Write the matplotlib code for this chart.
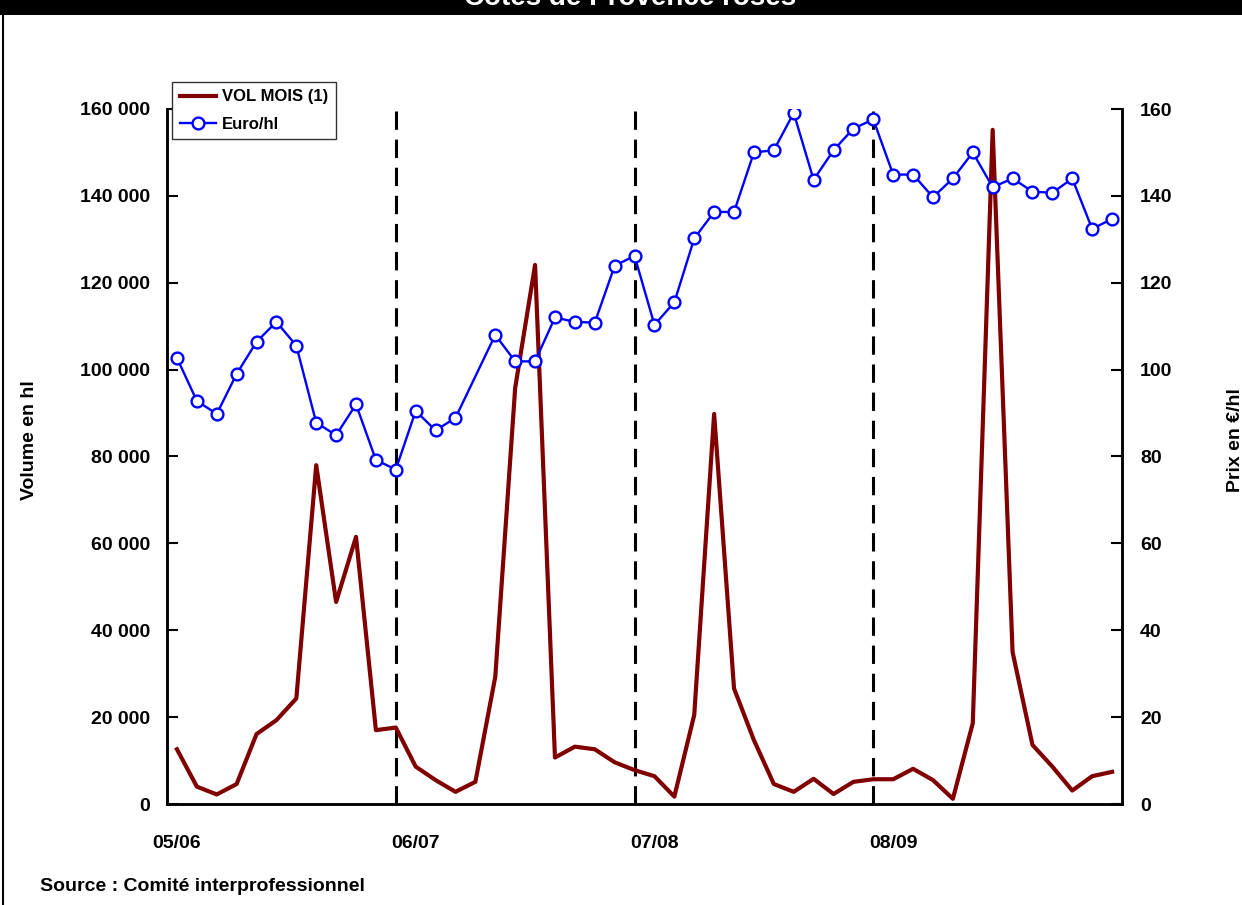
import numpy as np
import matplotlib
matplotlib.use("Agg")
import matplotlib.pyplot as plt
from matplotlib.ticker import FuncFormatter
from matplotlib.patches import Rectangle
from matplotlib.lines import Line2D

plt.rcParams['font.family'] = ['Liberation Sans', 'DejaVu Sans']
plt.rcParams['font.weight'] = 'bold'

# 48 monthly points, campaigns 05/06 .. 08/09
season_labels = ["05/06", "06/07", "07/08", "08/09"]
vol_mois = [12.6, 4.0, 2.2, 4.6, 16.1, 19.3, 24.3, 78.0, 46.5, 61.5, 17.0, 17.6,
            8.6, 5.5, 2.8, 5.1, 29.3, 95.8, 124.1, 10.7, 13.2, 12.6, 9.6, 7.8,
            6.4, 1.7, 20.5, 89.8, 26.6, 14.7, 4.6, 2.8, 5.8, 2.3, 5.1, 5.7,
            5.7, 8.1, 5.5, 1.2, 18.6, 155.2, 35.0, 13.6, 8.6, 3.1, 6.4, 7.4]
vol_mois = [v * 1000 for v in vol_mois]
euro_hl = [102.7, 92.8, 89.8, 99.0, 106.4, 111.0, 105.5, 87.8, 84.9, 92.0, 79.2, 77.0,
           90.5, 86.0, 88.9, np.nan, 108.0, 101.9, 101.9, 112.0, 111.0, 110.8, 123.9, 126.2,
           110.3, 115.5, 130.2, 136.3, 136.3, 150.0, 150.5, 159.1, 143.7, 150.5, 155.5, 157.6,
           144.9, 144.9, 139.7, 144.0, 150.0, 142.0, 144.0, 141.0, 140.7, 144.0, 132.4, 134.7]
season_breaks = [11, 23, 35]

x = np.arange(len(vol_mois))
euro = np.array(euro_hl)
ok = ~np.isnan(euro)

W, H = 1242, 905
fig = plt.figure(figsize=(W / 100, H / 100), dpi=100)

# title bar (cut off at top)
fig.patches.append(Rectangle((0, 1 - 15 / H), 1, 15 / H, transform=fig.transFigure,
                             facecolor='black', edgecolor='none', zorder=0))
fig.text(630 / W, 1 - 5 / H, "Côtes de Provence rosés", color='white', fontsize=20,
         fontweight='bold', ha='center', va='baseline')
fig.lines.append(Line2D([2.5 / W, 2.5 / W], [0, 1 - 15 / H], transform=fig.transFigure,
                        color='black', lw=1.5))

ax1 = fig.add_axes([167 / W, 1 - 804 / H, (1122 - 167) / W, (804 - 109) / H])
ax2 = ax1.twinx()

for b in season_breaks:
    ax1.axvline(b, color='black', lw=2.2, linestyle=(0, (6, 3.2)), zorder=1)

l1, = ax1.plot(x, vol_mois, color='#800000', lw=3, zorder=3, label="VOL MOIS (1)")
ax2.plot(x[ok], euro[ok], color='#0000FF', lw=1.7, zorder=3)
ax2.plot(x[ok], euro[ok], 'o', ms=8.5, mfc='white', mec='#0000FF', mew=1.7, zorder=4)
l2 = Line2D([], [], color='#0000FF', lw=1.7, marker='o', ms=8.5, mfc='white',
            mec='#0000FF', mew=1.7)

ax1.set_xlim(-0.5, 47.5)
ax1.set_ylim(0, 160000)
ax2.set_ylim(0, 160)
ax1.set_yticks(np.arange(0, 160001, 20000))
ax2.set_yticks(np.arange(0, 161, 20))
ax1.yaxis.set_major_formatter(FuncFormatter(lambda v, p: f"{int(v):,}".replace(",", " ")))

ax1.set_xticks([0, 12, 24, 36])
ax1.set_xticklabels(season_labels)
ax1.tick_params(axis='x', length=0, pad=22, labelsize=14)
ax1.tick_params(axis='y', direction='in', length=8, width=1.5, labelsize=14, pad=12)
ax2.tick_params(axis='y', direction='in', length=8, width=1.5, labelsize=14, pad=13)

for ax in (ax1, ax2):
    ax.spines['top'].set_visible(False)
    for s in ('left', 'right', 'bottom'):
        ax.spines[s].set_linewidth(1.8)
for t in ax1.get_xticklabels() + ax1.get_yticklabels() + ax2.get_yticklabels():
    t.set_fontweight('bold')

fig.text(30 / W, 1 - 440 / H, "Volume en hl", rotation=90, ha='center', va='center',
         fontsize=14, fontweight='bold')
fig.text(1236 / W, 1 - 440 / H, "Prix en €/hl", rotation=90, ha='center', va='center',
         fontsize=14, fontweight='bold')
fig.text(40 / W, 1 - 886 / H, "Source : Comité interprofessionnel", ha='left', va='center',
         fontsize=14, fontweight='bold')

leg = fig.legend([l1, l2], ["VOL MOIS (1)", "Euro/hl"], loc='upper left',
                 bbox_to_anchor=(172 / W, 1 - 82 / H), fancybox=False, framealpha=1,
                 edgecolor='#333333', fontsize=12, handlelength=2.2, borderpad=0.45,
                 labelspacing=0.75, handletextpad=0.35, borderaxespad=0)
leg.get_frame().set_linewidth(1.0)
for t in leg.get_texts():
    t.set_fontweight('bold')

fig.savefig("out.png", dpi=100)
